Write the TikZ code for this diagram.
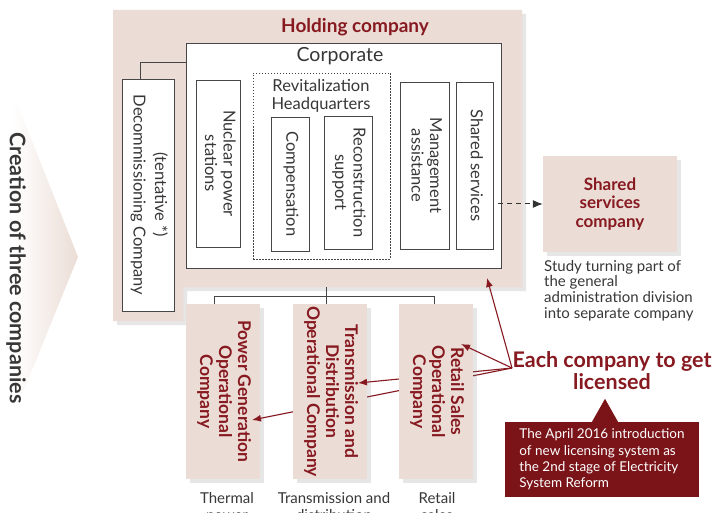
\documentclass[tikz,border=0pt]{standalone}
\usepackage{fontspec}
\setmainfont{Lato}
\usetikzlibrary{arrows.meta,shadows}

\definecolor{hpink}{RGB}{235,221,214}
\definecolor{hred}{RGB}{135,25,32}
\definecolor{hnote}{RGB}{122,20,25}
\definecolor{hline}{RGB}{70,70,70}
\definecolor{htext}{RGB}{55,55,55}

\newcommand{\fsz}[2]{\fontsize{#1}{#2}\selectfont}
\newcommand{\vlabel}[1]{\rotatebox{-90}{\begin{tabular}{@{}c@{}}#1\end{tabular}}}

\tikzset{
  box/.style={draw=hline, line width=0.9pt, fill=white, inner sep=0pt, text=htext, font=\fsz{16.5}{18.5}},
  opbox/.style={fill=hpink, inner sep=0pt, minimum width=74pt, minimum height=175pt, text=hred,
    font=\bfseries\fsz{17.5}{19}, drop shadow={shadow xshift=4pt, shadow yshift=-4pt, opacity=0.2}},
  conn/.style={draw=hline, line width=0.8pt},
  redarrow/.style={draw=hred, line width=1.1pt, -{Latex[length=9pt,width=7pt]}},
}

\begin{document}
\begin{tikzpicture}[x=1pt,y=-1pt]
  \useasboundingbox (0,0) rectangle (715,513);

  \shade[left color=white, right color=hpink] (13,93) -- (78,257) -- (13,417) -- cycle;
  \node[rotate=-90, text=htext, font=\bfseries\fsz{21.5}{23}] (create) at (16,268) {Creation of three companies};

  % holding company
  \fill[hpink, drop shadow={shadow xshift=4pt, shadow yshift=-4pt, opacity=0.2}]
    (113,10) -- (522,10) -- (522,287) -- (183,287) -- (183,321) -- (113,321) -- cycle;
  \node[text=hred, font=\bfseries\fsz{19}{21}] (hold) at (355,27) {Holding company};

  \node[box, minimum width=315pt, minimum height=225pt] (corp) at (343.5,155.5) {};
  \node[text=htext, font=\fsz{19.5}{21}] (corplbl) at (340,56) {Corporate};

  \node[box, minimum width=52pt, minimum height=232pt] (decom) at (148,195)
    {\vlabel{(tentative *)\\[3pt]Decommissioning Company}};
  \draw[conn] ([xshift=-8pt]decom.north) |- ([yshift=-20pt]corp.north west);

  \node[box, minimum width=44pt, minimum height=167pt] (nuc) at (218,163.5) {\vlabel{Nuclear power\\stations}};

  \node[draw=hline, line width=0.9pt, dash pattern=on 1.5pt off 1.5pt, minimum width=137pt, minimum height=186pt] (revit) at (321.5,166) {};
  \node[text=htext, align=center, font=\fsz{16.5}{18}] (revlbl) at (321,96) {Revitalization\\Headquarters};
  \node[box, minimum width=38pt, minimum height=134pt] (comp) at (290,184) {\vlabel{Compensation}};
  \node[box, minimum width=48pt, minimum height=133pt] (recon) at (348,182.5) {\vlabel{Reconstruction\\support}};

  \node[box, minimum width=49pt, minimum height=167pt] (mgmt) at (424.5,165.5) {\vlabel{Management\\assistance}};
  \node[box, minimum width=37pt, minimum height=167pt] (shared) at (474.5,165.5) {\vlabel{Shared services}};

  % shared services company
  \node[fill=hpink, minimum width=134pt, minimum height=96pt, align=center, text=hred, font=\bfseries\fsz{17}{18.5},
    drop shadow={shadow xshift=4pt, shadow yshift=-4pt, opacity=0.2}] (shco) at (610,204) {Shared\\services\\company};
  \draw[draw=black!80, line width=1pt, dash pattern=on 5pt off 4pt, -{Latex[length=10pt,width=8pt]}]
    ([xshift=5pt]shared.east |- shco.west) -- (shco.west);
  \node[anchor=north west, align=left, inner sep=0pt, text=htext, font=\fsz{15}{15.7}] (study) at (544,260)
    {Study turning part of\\the general\\administration division\\into separate company};

  % operational companies
  \coordinate (hbot) at (326,287);
  \coordinate (each) at (512,368);
  \node[opbox] (pg) at (223,391.5) {\vlabel{Power Generation\\Operational\\Company}};
  \coordinate (pgtip) at (252,420);
  \draw[redarrow] (each) -- (pgtip);
  \node[opbox] (td) at (330,391.5) {\vlabel{Transmission and\\Distribution\\Operational Company}};
  \coordinate (tdtip) at (358,383);
  \draw[redarrow] (each) -- (tdtip);
  \node[opbox] (rs) at (436,391.5) {\vlabel{Retail Sales\\Operational\\Company}};
  \coordinate (rstip) at (461,344);
  \draw[redarrow] (each) -- (rstip);
  \coordinate (holdtip) at (487,278);
  \draw[redarrow] (each) -- (holdtip);

  \draw[conn] (hbot) -- ([xshift=-4pt]td.north);
  \draw[conn] ([xshift=-9pt]pg.north) -- ++(0,-7) -| ([xshift=-2pt]rs.north);

  \node[anchor=north, align=center, text=htext, font=\fsz{15}{17}] (pglbl) at (227,489) {Thermal\\power};
  \node[anchor=north, align=center, text=htext, font=\fsz{15}{17}] (tdlbl) at (334,489) {Transmission and\\distribution};
  \node[anchor=north, align=center, text=htext, font=\fsz{15}{17}] (rslbl) at (437,489) {Retail\\sales};

  % licensing
  \node[align=center, text=hred, font=\bfseries\fsz{21.5}{22}] (lic) at (612,371) {Each company to get\\licensed};
  \node[fill=hnote, minimum width=194pt, minimum height=75pt, align=left, inner sep=0pt,
    text=white, font=\fsz{13.5}{16.3}] (note) at (602,459.5)
    {The April 2016 introduction\\of new licensing system as\\the 2nd stage of Electricity\\System Reform};
  \fill[hnote] ([xshift=-10pt]note.north) -- ++(13,-23) -- ++(13,23) -- cycle;
\end{tikzpicture}
\end{document}
